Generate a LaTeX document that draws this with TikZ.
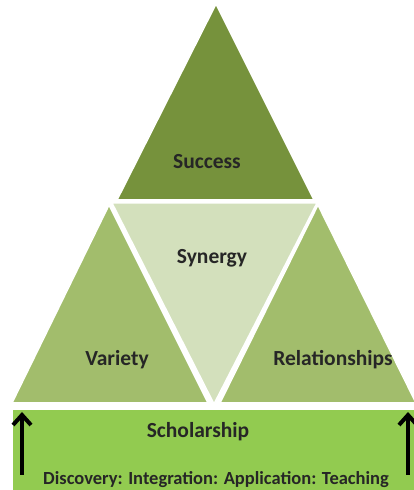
\documentclass[tikz,border=0pt]{standalone}
\usepackage{fontspec}
\setmainfont{Carlito}
\usetikzlibrary{arrows.meta,positioning}
\definecolor{olivedark}{HTML}{76923C}
\definecolor{olivemid}{HTML}{A2BD6C}
\definecolor{olivelight}{HTML}{D3E0BC}
\definecolor{grassgreen}{HTML}{92CB50}
\definecolor{inkgray}{HTML}{262626}

\begin{document}
\begin{tikzpicture}[x=1pt,y=1pt,
  piece/.style={draw=white,line width=1.5pt,line join=miter},
  word/.style={text=inkgray,font=\bfseries\fontsize{21.5}{25}\selectfont},
  small word/.style={text=inkgray,font=\bfseries\fontsize{18.5}{22}\selectfont},
  up arrow/.style={-{Straight Barb[length=10pt,width=18pt]},line width=4pt}]
  \useasboundingbox (0,0) rectangle (414,490);

  % base
  \fill[grassgreen] (13,0) rectangle (414,80);
  \node[word] (scholar) at (198,58) {Scholarship};
  \node[small word] (kinds) at (216,10) {Discovery: Integration: Application: Teaching};
  \coordinate (la) at (22,15);
  \coordinate (lb) at (22,78);
  \coordinate (ra) at (408,15);
  \coordinate (rb) at (408,78);
  \draw[up arrow] (la) -- (lb);
  \draw[up arrow] (ra) -- (rb);

  % middle row
  \filldraw[piece,fill=olivemid] (12,87) -- (109,285) -- (208,87) -- cycle;
  \filldraw[piece,fill=olivemid] (220,87) -- (318,285) -- (416,87) -- cycle;
  \filldraw[piece,fill=olivelight] (112,287) -- (317,287) -- (214,86) -- cycle;
  \node[word] (variety) at (117,130) {Variety};
  \node[word] (synergy) at (212,232) {Synergy};
  \node[word] (relations) at (333,130) {Relationships};

  % top
  \filldraw[piece,fill=olivedark] (117,290) -- (216,486) -- (314,290) -- cycle;
  \node[word] (success) at (207,328) {Success};
\end{tikzpicture}
\end{document}
